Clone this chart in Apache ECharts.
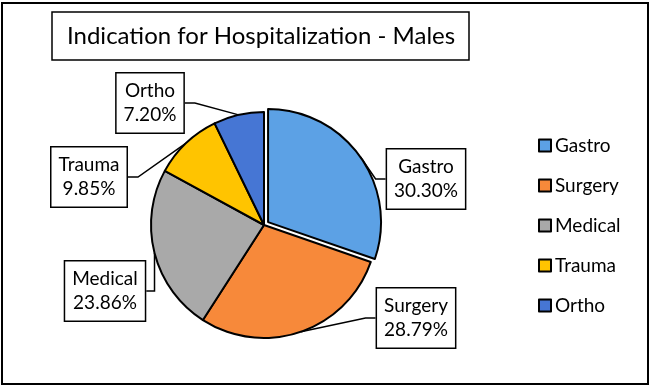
<!DOCTYPE html>
<html>
<head>
<meta charset="utf-8">
<script src="https://cdn.jsdelivr.net/npm/echarts@6/dist/echarts.min.js"></script>
<style>
html,body{margin:0;padding:0;background:#fff;}
#chart{width:652px;height:388px;}
</style>
</head>
<body>
<div id="chart"></div>
<script>
var categories = ['Gastro', 'Surgery', 'Medical', 'Trauma', 'Ortho'];
var values = [30.30, 28.79, 23.86, 9.85, 7.20];
var colors = ['#5CA1E5', '#F7893A', '#A9A9A9', '#FFC400', '#4676D4'];
var titleText = 'Indication for Hospitalization - Males';
var explodedName = 'Gastro';

// label box centres (layout only)
var labelPos = [[426, 179], [416, 318], [105, 291], [89, 177], [150, 103]];

var FONT = 'Lato';
var CENTER = [264, 225];
var RADIUS = 113;
var EXPLODE = 5;

// mid-angle of the exploded slice, derived from the values
var total = values.reduce(function (a, b) { return a + b; }, 0);
var exIdx = categories.indexOf(explodedName);
var before = 0;
for (var k = 0; k < exIdx; k++) before += values[k];
var midAng = (before + values[exIdx] / 2) / total * 2 * Math.PI;
var exCenter = [CENTER[0] + EXPLODE * Math.sin(midAng), CENTER[1] - EXPLODE * Math.cos(midAng)];

var chart = echarts.init(document.getElementById('chart'));

var labelCommon = {
  show: true,
  position: 'outside',
  formatter: function (p) { return p.name + '\n' + p.value.toFixed(2) + '%'; },
  fontFamily: FONT,
  fontSize: 19,
  lineHeight: 24,
  color: '#000',
  align: 'center',
  backgroundColor: '#fff',
  borderColor: '#000',
  borderWidth: 1.5,
  padding: [6, 7, 5, 7]
};
var hidden = {
  itemStyle: { color: 'rgba(0,0,0,0)', borderWidth: 0 },
  label: { show: false },
  labelLine: { show: false }
};

var mainData = categories.map(function (c, i) {
  var d = { name: c, value: values[i], itemStyle: { color: colors[i] } };
  if (i === exIdx) { d = Object.assign({ name: c, value: values[i] }, JSON.parse(JSON.stringify(hidden))); }
  return d;
});
var exData = categories.map(function (c, i) {
  var d = { name: c, value: values[i], itemStyle: { color: colors[i] } };
  if (i !== exIdx) { d = Object.assign({ name: c, value: values[i] }, JSON.parse(JSON.stringify(hidden))); }
  return d;
});

function layoutFn(params) {
  var pos = labelPos[params.dataIndex];
  return { x: pos[0], y: pos[1], align: 'center', verticalAlign: 'middle' };
}

var pieCommon = {
  type: 'pie',
  radius: RADIUS,
  startAngle: 90,
  clockwise: true,
  avoidLabelOverlap: false,
  selectedMode: false,
  itemStyle: { borderColor: '#000', borderWidth: 2 },
  emphasis: { disabled: true },
  label: labelCommon,
  labelLine: { show: true, length: 10, length2: 10, lineStyle: { color: '#000', width: 1.5 } },
  labelLayout: layoutFn
};

chart.setOption({
  animation: false,
  title: {
    text: titleText,
    left: 52,
    top: 12,
    padding: [5, 14, 5, 15],
    borderColor: '#000',
    borderWidth: 1.5,
    textStyle: { fontFamily: FONT, fontSize: 24, fontWeight: 'normal', color: '#000', lineHeight: 38 }
  },
  graphic: [{
    type: 'rect',
    shape: { x: 2, y: 3, width: 646, height: 381 },
    style: { fill: 'none', stroke: '#000', lineWidth: 2 },
    silent: true,
    z: 100
  }],
  legend: {
    orient: 'vertical',
    left: 533,
    top: 131,
    icon: 'rect',
    itemWidth: 12,
    itemHeight: 12,
    itemGap: 21,
    selectedMode: false,
    textStyle: { fontFamily: FONT, fontSize: 19, color: '#000', padding: [0, 0, 0, -1] },
    data: categories.map(function (c, i) {
      return { name: c, itemStyle: { color: colors[i], borderColor: '#000', borderWidth: 2 } };
    })
  },
  series: [
    Object.assign({}, pieCommon, { name: 'main', center: CENTER, data: mainData }),
    Object.assign({}, pieCommon, { name: 'exploded', center: exCenter, data: exData })
  ]
});
</script>
</body>
</html>
